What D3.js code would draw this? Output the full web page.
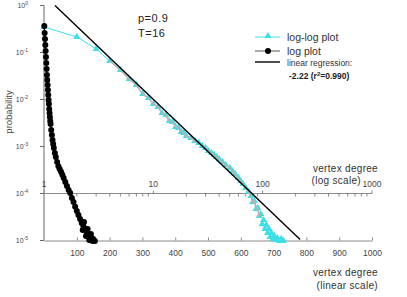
<!DOCTYPE html>
<html>
<head>
<meta charset="utf-8">
<script src="https://cdn.jsdelivr.net/npm/d3@7"></script>
<style>
body { margin: 0; background: #fff; }
svg { display: block; font-family: "Liberation Sans", Arial, sans-serif; }
</style>
</head>
<body>
<div id="vis"></div>
<script>
var width = 407;
var height = 297;

// "log plot": degree (linear) vs probability (log)
var logDeg = [1, 2, 3, 4, 5, 6, 7, 8, 9, 10, 11, 12, 13, 14, 15, 16, 17, 18, 19, 20,
  22, 24, 26, 28, 30, 33, 36, 40, 44, 48, 52, 56, 60, 65, 70, 75, 80, 85, 90, 95,
  100, 105, 110, 115, 120, 125, 130, 135, 140, 145, 150, 155,
  118, 122, 128, 133, 138, 143, 148];
var logProb = [0.366, 0.26, 0.194, 0.144, 0.108, 0.0802, 0.0598, 0.0446, 0.0332, 0.026,
  0.0204, 0.0159, 0.0125, 0.00976, 0.00802, 0.00628, 0.00516, 0.00425, 0.00349, 0.00301,
  0.00224, 0.00176, 0.00138, 0.00113, 0.00093, 0.00073, 0.0006, 0.00047, 0.00038, 0.00033,
  0.00029, 0.00025, 0.000214, 0.000176, 0.000145, 0.000119, 0.000103, 0.00008, 0.000066, 0.000052,
  0.0000425, 0.0000349, 0.0000287, 0.0000236, 0.0000204, 0.0000176, 0.0000152, 0.0000138, 0.0000125, 0.0000113,
  0.0000108, 0.0000098,
  0.0000167, 0.0000248, 0.0000125, 0.0000176, 0.0000103, 0.0000138, 0.0000098];

// "log-log plot": degree (log) vs probability (log)
var loglogDeg = [1, 2, 3, 4, 5, 6, 7, 8, 9, 10, 11, 12, 13, 14, 15, 16, 17, 18, 19, 20,
  22, 24, 26, 28, 30, 32, 34, 36, 38, 40, 43, 46, 50, 53, 56, 60, 63, 66, 70, 74, 78,
  81, 84, 87, 90, 93, 96, 99, 102, 105, 108, 111, 114, 117, 120, 124, 128, 132, 136, 142, 148, 155];
var loglogProb = [0.35, 0.214, 0.119, 0.0659, 0.0425, 0.0273, 0.0204, 0.0131, 0.01076, 0.00802,
  0.00692, 0.00516, 0.00468, 0.00349, 0.00332, 0.0026, 0.00248, 0.00204, 0.00194, 0.00167,
  0.00152, 0.00131, 0.00119, 0.00103, 0.00093, 0.0008, 0.00073, 0.00066, 0.0006, 0.00054,
  0.00047, 0.0004, 0.00035, 0.0003, 0.00026, 0.000214, 0.000185, 0.000159, 0.000131, 0.000108, 0.0000885,
  0.0000659, 0.0000692, 0.0000468, 0.0000491, 0.0000332, 0.0000366, 0.0000224, 0.0000273, 0.0000176, 0.0000214,
  0.0000145, 0.0000176, 0.0000119, 0.0000145, 0.0000108, 0.0000125, 0.0000103, 0.0000113, 0.0000098, 0.0000108, 0.0000098];

// linear regression of the log-log data
var regCoef = 1.667;
var regSlope = -2.22;
var regRange = [1.26, 220];

var yTicks = [1, 1e-1, 1e-2, 1e-3, 1e-4, 1e-5];
var yExps = ["0", "-1", "-2", "-3", "-4", "-5"];
var linTicks = [100, 200, 300, 400, 500, 600, 700, 800, 900, 1000];
var logTicks = [1, 10, 100, 1000];

var cyan = "#3ddfe6";
var axisCol = "#8a8a8a";
var textCol = "#444";

var y = d3.scaleLog().domain([1e-5, 1]).range([240.5, 5.5]);
var xLin = d3.scaleLinear().domain([0, 1000]).range([44, 372]);
var xLog = d3.scaleLog().domain([1, 1000]).range([44, 372]);

var svg = d3.select("#vis").append("svg")
  .attr("width", width)
  .attr("height", height)
  .attr("viewBox", [0, 0, width, height]);

svg.append("rect").attr("width", width).attr("height", height).attr("fill", "#fff");

// y axis
var gy = svg.append("g");
gy.append("line")
  .attr("x1", 44).attr("x2", 44)
  .attr("y1", y(1)).attr("y2", y(1e-5))
  .attr("stroke", "#666");
gy.selectAll("line.tk")
  .data(yTicks)
  .enter()
  .append("line")
  .attr("class", "tk")
  .attr("x1", 40).attr("x2", 44)
  .attr("y1", d => y(d)).attr("y2", d => y(d))
  .attr("stroke", "#666");
var yl = gy.selectAll("text")
  .data(yTicks)
  .enter()
  .append("text")
  .attr("x", 28)
  .attr("y", d => y(d) + 2.5)
  .attr("text-anchor", "end")
  .attr("fill", textCol)
  .style("font-size", "7px")
  .text("10");
yl.append("tspan")
  .attr("dy", -3)
  .style("font-size", "5px")
  .text((d, i) => yExps[i]);

svg.append("text")
  .attr("transform", "translate(12,112) rotate(-90)")
  .attr("text-anchor", "middle")
  .attr("fill", textCol)
  .style("font-size", "9.5px")
  .text("probability");

// log x axis (at 10^-4)
var y0 = y(1e-4);
var gl = svg.append("g");
gl.append("line")
  .attr("x1", 44).attr("x2", 372)
  .attr("y1", y0).attr("y2", y0)
  .attr("stroke", axisCol);
gl.selectAll("line.tk")
  .data(xLog.ticks())
  .enter()
  .append("line")
  .attr("class", "tk")
  .attr("x1", d => xLog(d)).attr("x2", d => xLog(d))
  .attr("y1", d => logTicks.includes(d) ? y0 - 3 : y0)
  .attr("y2", d => logTicks.includes(d) ? y0 : y0 + 3)
  .attr("stroke", axisCol);
gl.selectAll("text")
  .data(logTicks)
  .enter()
  .append("text")
  .attr("x", d => xLog(d))
  .attr("y", y0 - 7)
  .attr("text-anchor", "middle")
  .attr("fill", textCol)
  .style("font-size", "8.5px")
  .text(d => d);

// linear x axis (at 10^-5)
var y1 = y(1e-5);
svg.append("g")
  .attr("transform", `translate(0,${y1})`)
  .call(d3.axisBottom(xLin).tickValues(linTicks).tickFormat(d => d)
    .tickSize(-3).tickSizeOuter(0).tickPadding(9))
  .call(g => g.select(".domain").attr("stroke", axisCol))
  .call(g => g.selectAll(".tick line").attr("stroke", axisCol))
  .call(g => g.selectAll(".tick text")
    .attr("fill", textCol)
    .style("font-size", "8.5px")
    .style("font-family", "'Liberation Sans', Arial, sans-serif"));

// axis titles
var titles = [["vertex degree", 378, 172], ["(log scale)", 361, 184], ["vertex degree", 378, 276], ["(linear scale)", 378, 289]];
svg.selectAll("text.ttl")
  .data(titles)
  .enter()
  .append("text")
  .attr("class", "ttl")
  .attr("x", d => d[1])
  .attr("y", d => d[2])
  .attr("text-anchor", "end")
  .attr("fill", "#333")
  .style("font-size", "10px")
  .style("letter-spacing", "0.3px")
  .text(d => d[0]);

// parameters
svg.append("text").attr("x", 138).attr("y", 22).attr("fill", "#222")
  .style("font-size", "11px").style("letter-spacing", "0.5px").text("p=0.9");
svg.append("text").attr("x", 138).attr("y", 37).attr("fill", "#222")
  .style("font-size", "11px").style("letter-spacing", "0.5px").text("T=16");

// log-log series
var loglog = loglogDeg.map((d, i) => [d, loglogProb[i]]);
var lineLL = d3.line().x(d => xLog(d[0])).y(d => y(d[1]));
svg.append("path")
  .datum(loglog.filter(d => d[0] <= 80))
  .attr("fill", "none")
  .attr("stroke", cyan)
  .attr("d", lineLL);
var tri = d3.symbol(d3.symbolTriangle).size(22);
svg.append("g")
  .attr("fill", cyan)
  .selectAll("path")
  .data(loglog)
  .enter()
  .append("path")
  .attr("transform", d => `translate(${xLog(d[0])},${y(d[1])})`)
  .attr("d", tri);
svg.append("path")
  .datum(loglog.filter(d => d[0] >= 4 && d[0] <= 96))
  .attr("fill", "none")
  .attr("stroke", "#b4b4b4")
  .attr("stroke-width", 1.6)
  .attr("d", lineLL);

// regression line
svg.append("path")
  .datum(regRange)
  .attr("fill", "none")
  .attr("stroke", "#000")
  .attr("stroke-width", 1.4)
  .attr("d", d3.line().x(d => xLog(d)).y(d => y(regCoef * Math.pow(d, regSlope))));

// log series
var logp = logDeg.map((d, i) => [d, logProb[i]]);
svg.append("path")
  .datum(logp.slice(0, 52))
  .attr("fill", "none")
  .attr("stroke", "#000")
  .attr("d", d3.line().x(d => xLin(d[0])).y(d => y(d[1])));
svg.append("g")
  .selectAll("circle")
  .data(logp)
  .enter()
  .append("circle")
  .attr("cx", d => xLin(d[0]))
  .attr("cy", d => y(d[1]))
  .attr("r", 3)
  .attr("fill", "#000");

// legend
var leg = svg.append("g").attr("transform", "translate(255,0)");
leg.append("line").attr("x1", 0).attr("x2", 25).attr("y1", 37).attr("y2", 37).attr("stroke", cyan);
leg.append("path").attr("transform", "translate(13,36)").attr("d", tri).attr("fill", cyan);
leg.append("text").attr("x", 32).attr("y", 40.5).attr("fill", "#333")
  .style("font-size", "10.5px").text("log-log  plot");
leg.append("line").attr("x1", 0).attr("x2", 25).attr("y1", 51).attr("y2", 51).attr("stroke", "#555");
leg.append("circle").attr("cx", 13).attr("cy", 51).attr("r", 3).attr("fill", "#000");
leg.append("text").attr("x", 32).attr("y", 54.5).attr("fill", "#333")
  .style("font-size", "10.5px").text("log plot");
leg.append("line").attr("x1", 0).attr("x2", 25).attr("y1", 62).attr("y2", 62)
  .attr("stroke", "#000").attr("stroke-width", 1.4);
leg.append("text").attr("x", 32).attr("y", 66).attr("fill", "#333")
  .style("font-size", "8.5px").text("linear regression:");
var rt = leg.append("text").attr("x", 34).attr("y", 78.5).attr("fill", "#222")
  .style("font-size", "8.5px").style("font-weight", "bold");
rt.append("tspan").text("-2.22 (r");
rt.append("tspan").attr("dy", -3).style("font-size", "6px").text("2");
rt.append("tspan").attr("dy", 3).text("=0.990)");
</script>
</body>
</html>
